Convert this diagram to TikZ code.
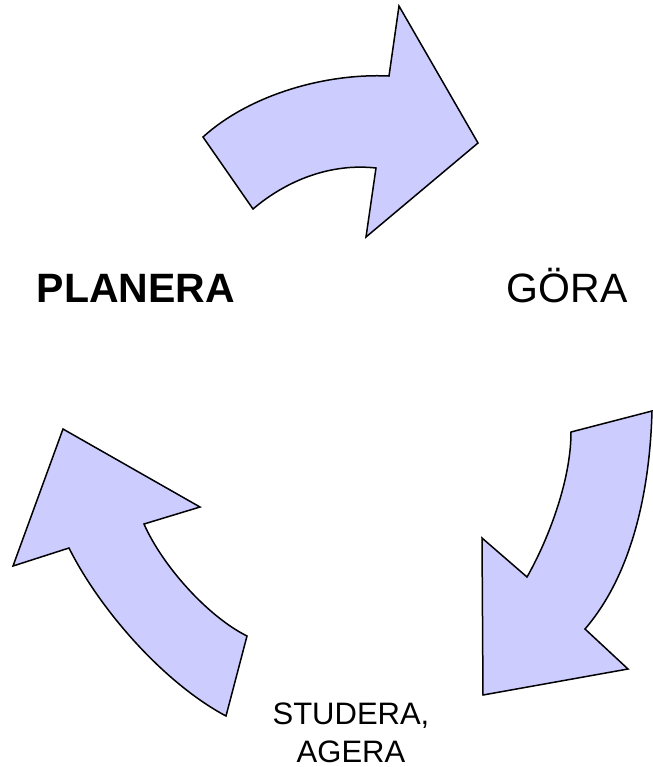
\documentclass[tikz,border=0pt]{standalone}
\usepackage{fontspec}
\setmainfont{Liberation Sans}
\usepackage{tikz}
\usetikzlibrary{positioning}

\definecolor{arrowfill}{RGB}{204,204,255}

\begin{document}
\begin{tikzpicture}[x=0.5pt,y=-0.5pt,
        cyclearrow/.style={draw=black, fill=arrowfill, line width=0.75pt, line join=miter},
        phase/.style={inner sep=0pt, anchor=base}]
        \useasboundingbox (0,0) rectangle (653,767);

        % top arrow, towards GÖRA
        \draw[cyclearrow] (203,137) .. controls (248,96) and (323,73) .. (389,76)
            -- (399,6) -- (478,143) -- (366,237) -- (376,168)
            .. controls (331,163) and (287,180) .. (253,209) -- cycle;

        % right arrow, towards STUDERA
        \draw[cyclearrow] (571,432) -- (652,411)
            .. controls (650,486) and (634,572) .. (585,629)
            -- (628,669) -- (483,695) -- (482,538) -- (527,577)
            .. controls (547,542) and (571,482) .. (571,432) -- cycle;

        % left arrow, towards PLANERA
        \draw[cyclearrow] (63,429) -- (200,507) -- (144,524)
            .. controls (162,565) and (207,616) .. (247,636)
            -- (226,716)
            .. controls (164,683) and (100,610) .. (69,548)
            -- (13,566) -- cycle;

        % the three phases
        \node[phase, font=\fontsize{20.5}{24}\selectfont\bfseries] (planera) at (136,302) {PLANERA};
        \node[phase, font=\fontsize{20.5}{24}\selectfont] (gora) at (567,302) {GÖRA};
        \node[phase, font=\fontsize{15.5}{19}\selectfont, align=center] (studera) at (351,762) {STUDERA,\\AGERA};
\end{tikzpicture}
\end{document}
